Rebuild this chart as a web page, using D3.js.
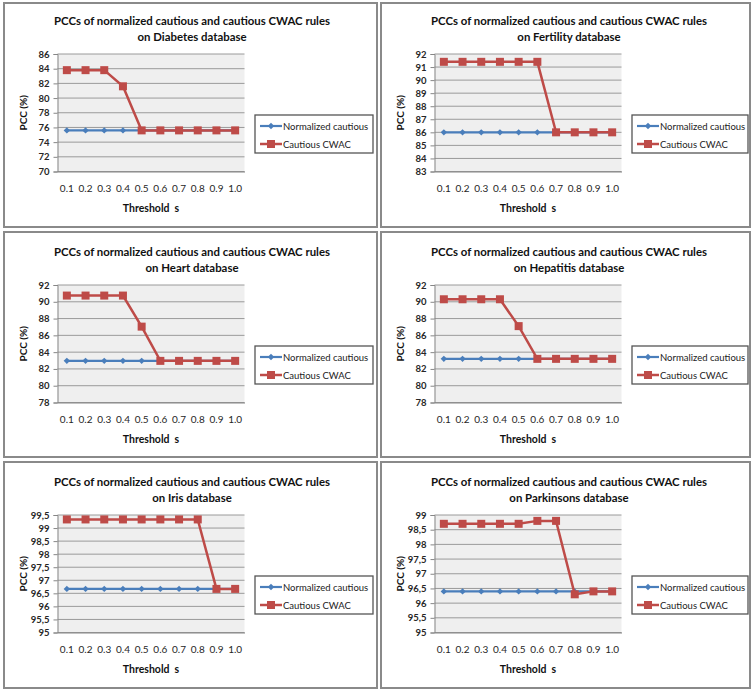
<!DOCTYPE html>
<html><head><meta charset="utf-8">
<script src="https://cdn.jsdelivr.net/npm/d3@7"></script>
<style>
body{margin:0;background:#fff;}
svg{display:block;font-family:Lato,"Liberation Sans",Arial,sans-serif;}
</style></head>
<body>
<svg id="chart" width="752" height="689"></svg>
<script>
// ---- data ----
const thresholds = ["0.1","0.2","0.3","0.4","0.5","0.6","0.7","0.8","0.9","1.0"];
const seriesNames = ["Normalized cautious","Cautious CWAC"];
const databases = ["Diabetes","Fertility","Heart","Hepatitis","Iris","Parkinsons"];

const diabetesNormalized = [75.6,75.6,75.6,75.6,75.6,75.6,75.6,75.6,75.6,75.6];
const diabetesCWAC       = [83.8,83.8,83.8,81.6,75.6,75.6,75.6,75.6,75.6,75.6];
const diabetesTicks      = [70,72,74,76,78,80,82,84,86];

const fertilityNormalized = [86,86,86,86,86,86,86,86,86,86];
const fertilityCWAC       = [91.4,91.4,91.4,91.4,91.4,91.4,86,86,86,86];
const fertilityTicks      = [83,84,85,86,87,88,89,90,91,92];

const heartNormalized = [82.96,82.96,82.96,82.96,82.96,82.96,82.96,82.96,82.96,82.96];
const heartCWAC       = [90.74,90.74,90.74,90.74,87.04,82.96,82.96,82.96,82.96,82.96];
const heartTicks      = [78,80,82,84,86,88,90,92];

const hepatitisNormalized = [83.2,83.2,83.2,83.2,83.2,83.2,83.2,83.2,83.2,83.2];
const hepatitisCWAC       = [90.3,90.3,90.3,90.3,87.1,83.2,83.2,83.2,83.2,83.2];
const hepatitisTicks      = [78,80,82,84,86,88,90,92];

const irisNormalized = [96.67,96.67,96.67,96.67,96.67,96.67,96.67,96.67,96.67,96.67];
const irisCWAC       = [99.33,99.33,99.33,99.33,99.33,99.33,99.33,99.33,96.67,96.67];
const irisTicks      = [95,95.5,96,96.5,97,97.5,98,98.5,99,99.5];

const parkinsonsNormalized = [96.4,96.4,96.4,96.4,96.4,96.4,96.4,96.4,96.4,96.4];
const parkinsonsCWAC       = [98.7,98.7,98.7,98.7,98.7,98.8,98.8,96.3,96.4,96.4];
const parkinsonsTicks      = [95,95.5,96,96.5,97,97.5,98,98.5,99];

const panels = [
  {name:databases[0], norm:diabetesNormalized,   cwac:diabetesCWAC,   ticks:diabetesTicks,   comma:false},
  {name:databases[1], norm:fertilityNormalized,  cwac:fertilityCWAC,  ticks:fertilityTicks,  comma:false},
  {name:databases[2], norm:heartNormalized,      cwac:heartCWAC,      ticks:heartTicks,      comma:false},
  {name:databases[3], norm:hepatitisNormalized,  cwac:hepatitisCWAC,  ticks:hepatitisTicks,  comma:false},
  {name:databases[4], norm:irisNormalized,       cwac:irisCWAC,       ticks:irisTicks,       comma:true},
  {name:databases[5], norm:parkinsonsNormalized, cwac:parkinsonsCWAC, ticks:parkinsonsTicks, comma:true}
];

// ---- layout ----
const colX = [0, 377];
const rowY = [0, 231, 461];
const frameX = [4, 381], frameW = [373, 369];
const frameY = [3, 232, 462], frameH = [224, 225, 226];
const blue = "#4A7EBB", red = "#BE4B48";

const svg = d3.select("#chart");

panels.forEach((p, i) => {
  const c = i % 2, r = Math.floor(i / 2);
  const ox = colX[c], oy = rowY[r];

  svg.append("rect")
    .attr("x", frameX[c]).attr("y", frameY[r])
    .attr("width", frameW[c]).attr("height", frameH[r])
    .attr("fill", "#fff").attr("stroke", "#8a8a8a").attr("stroke-width", 2);

  const g = svg.append("g").attr("transform", `translate(${ox},${oy})`);

  const left = 57.5, right = 244.5, top = 54, bottom = 171.5;
  const x = d3.scaleBand().domain(thresholds).range([left, right]);
  const y = d3.scaleLinear().domain([p.ticks[0], p.ticks[p.ticks.length - 1]]).range([bottom, top]);

  g.append("rect").attr("x", left).attr("y", top)
    .attr("width", right - left).attr("height", bottom - top)
    .attr("fill", "#EFEFEF");

  g.append("g").selectAll("line").data(p.ticks).join("line")
    .attr("x1", left).attr("x2", right)
    .attr("y1", d => y(d)).attr("y2", d => y(d))
    .attr("stroke", "#9a9a9a").attr("stroke-width", 1);

  const fmt = d => p.comma ? String(d).replace(".", ",") : String(d);
  const ya = g.append("g").attr("transform", `translate(${left},0)`)
    .call(d3.axisLeft(y).tickValues(p.ticks).tickFormat(fmt).tickSize(4).tickPadding(4));
  ya.select(".domain").attr("stroke", "#868686");
  ya.selectAll(".tick line").attr("stroke", "#868686");
  ya.selectAll("text").attr("font-size", 9.5).attr("fill", "#262626").attr("font-weight", 700)
    .attr("font-family", "Lato, 'Liberation Sans', sans-serif");

  const xa = g.append("g").attr("transform", `translate(0,${bottom})`)
    .call(d3.axisBottom(x).tickSize(0).tickPadding(13));
  xa.select(".domain").attr("stroke", "#868686");
  xa.selectAll("text").attr("font-size", 10).attr("fill", "#262626").attr("font-weight", 400)
    .attr("font-family", "Lato, 'Liberation Sans', sans-serif");

  const cx = d => x(d) + x.bandwidth() / 2;
  const line = d3.line().x((d, k) => cx(thresholds[k])).y(d => y(d));

  g.append("path").datum(p.norm).attr("d", line)
    .attr("fill", "none").attr("stroke", blue).attr("stroke-width", 2.2);
  g.append("g").selectAll("path").data(p.norm).join("path")
    .attr("d", d3.symbol(d3.symbolDiamond2, 26))
    .attr("transform", (d, k) => `translate(${cx(thresholds[k])},${y(d)})`)
    .attr("fill", blue);

  g.append("path").datum(p.cwac).attr("d", line)
    .attr("fill", "none").attr("stroke", red).attr("stroke-width", 2.5);
  g.append("g").selectAll("rect").data(p.cwac).join("rect")
    .attr("x", (d, k) => cx(thresholds[k]) - 4).attr("y", d => y(d) - 4)
    .attr("width", 8).attr("height", 8).attr("fill", red);

  const tcx = 192;
  g.append("text").attr("x", tcx).attr("y", 24.5).attr("text-anchor", "middle")
    .attr("font-size", 11.4).attr("font-weight", 700).attr("fill", "#111")
    .text("PCCs of normalized cautious and cautious CWAC rules");
  g.append("text").attr("x", tcx).attr("y", 40.5).attr("text-anchor", "middle")
    .attr("font-size", 11.4).attr("font-weight", 700).attr("fill", "#111")
    .text(`on ${p.name} database`);

  g.append("text").attr("x", (left + right) / 2).attr("y", 212).attr("text-anchor", "middle")
    .attr("font-size", 10.5).attr("font-weight", 700).attr("fill", "#111")
    .attr("xml:space", "preserve")
    .text("Threshold  s");

  g.append("text").attr("transform", `translate(27,${(top + bottom) / 2}) rotate(-90)`)
    .attr("text-anchor", "middle")
    .attr("font-size", 10).attr("font-weight", 700).attr("fill", "#111")
    .text("PCC (%)");

  const lg = g.append("g");
  const lx = 255, ly = 115, lw = c === 0 ? 118 : 116, lh = 38;
  lg.append("rect").attr("x", lx).attr("y", ly).attr("width", lw).attr("height", lh)
    .attr("fill", "#fff").attr("stroke", "#555").attr("stroke-width", 1.3);
  const items = [
    {name: seriesNames[0], color: blue, sym: "diamond"},
    {name: seriesNames[1], color: red, sym: "square"}
  ];
  items.forEach((it, k) => {
    const yy = ly + 11 + k * 18;
    lg.append("line").attr("x1", lx + 5).attr("x2", lx + 27).attr("y1", yy).attr("y2", yy)
      .attr("stroke", it.color).attr("stroke-width", it.sym === "square" ? 2.5 : 2.2);
    if (it.sym === "diamond") {
      lg.append("path").attr("d", d3.symbol(d3.symbolDiamond2, 26))
        .attr("transform", `translate(${lx + 16},${yy})`).attr("fill", it.color);
    } else {
      lg.append("rect").attr("x", lx + 12).attr("y", yy - 4).attr("width", 8).attr("height", 8)
        .attr("fill", it.color);
    }
    lg.append("text").attr("x", lx + 28).attr("y", yy + 3.5)
      .attr("font-size", 9.5).attr("fill", "#222").text(it.name);
  });
});
</script>
</body></html>
